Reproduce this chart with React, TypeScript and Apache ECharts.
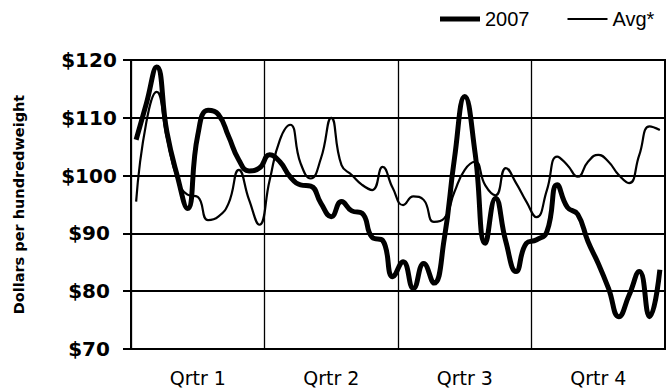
import React, { useEffect, useRef } from "react";
import * as echarts from "echarts";

const quarters = ["Qrtr 1", "Qrtr 2", "Qrtr 3", "Qrtr 4"];
const weeks = Array.from({ length: 52 }, (_, i) => `Week ${i + 1}`);

const values2007 = [
  106.2, 112.5, 118.8, 107.5, 100.0, 94.3, 107.0, 111.3, 110.6, 106.8,
  102.7, 100.8, 101.3, 103.6, 102.4, 99.8, 98.4, 98.2, 95.2, 92.9,
  95.5, 93.9, 93.5, 89.3, 88.8, 82.5, 85.1, 80.5, 84.8, 81.4,
  89.0, 103.0, 113.7, 104.0, 88.3, 96.1, 88.6, 83.4, 88.3, 88.9,
  90.3, 98.4, 94.5, 93.3, 88.6, 84.8, 80.5, 75.6, 79.3, 83.4,
  75.6, 83.7,
];

const valuesAvg = [
  95.5, 109.3, 114.5, 106.5, 99.5, 96.7, 96.3, 92.3, 92.9, 95.2,
  101.0, 95.8, 91.5, 99.2, 106.2, 108.8, 102.2, 99.5, 103.0, 110.0,
  101.8, 100.1, 98.4, 97.5, 101.5, 97.8, 94.9, 96.4, 95.8, 92.0,
  92.6, 97.2, 101.0, 102.4, 98.3, 96.6, 101.3, 98.7, 95.5, 92.8,
  97.5, 103.3, 101.8, 99.8, 102.4, 103.6, 102.4, 100.1, 98.7, 103.6,
  108.5, 107.9,
];

const yMin = 70;
const yMax = 120;
const yStep = 10;

export default function App() {
  const ref = useRef<HTMLDivElement>(null);

  useEffect(() => {
    if (!ref.current) return;
    const chart = echarts.init(ref.current, null, { renderer: "svg" });
    chart.setOption({
      animation: false,
      backgroundColor: "#ffffff",
      color: ["#000", "#000"],
      legend: {
        left: 440,
        top: 9,
        padding: 0,
        itemWidth: 40,
        itemHeight: 14,
        itemGap: 38,
        textStyle: {
          fontFamily: "Liberation Sans",
          fontSize: 20,
          color: "#000",
        },
        data: [
          {
            name: "2007",
            icon: "path://M0 0H40V5H0Z",
            itemStyle: { color: "#000" },
          },
          {
            name: "Avg*",
            icon: "path://M0 0H40V2H0Z",
            itemStyle: { color: "#000" },
          },
        ],
      },
      grid: {
        left: 131,
        right: 1,
        top: 60,
        bottom: 43,
        show: true,
        borderColor: "#000",
        borderWidth: 2,
        containLabel: false,
      },
      xAxis: [
        {
          type: "category",
          data: quarters,
          boundaryGap: true,
          axisLine: { show: true, lineStyle: { color: "#000", width: 2 } },
          axisTick: { show: false },
          axisLabel: {
            margin: 19,
            fontFamily: "DejaVu Sans",
            fontSize: 19,
            color: "#000",
          },
          splitLine: { show: true, lineStyle: { color: "#000", width: 1.3 } },
        },
        {
          type: "category",
          data: weeks,
          boundaryGap: true,
          show: false,
        },
      ],
      yAxis: {
        type: "value",
        min: yMin,
        max: yMax,
        interval: yStep,
        name: "Dollars per hundredweight",
        nameLocation: "middle",
        nameGap: 105,
        nameTextStyle: {
          fontFamily: "DejaVu Sans",
          fontWeight: "bold",
          fontSize: 14.5,
          color: "#000",
        },
        axisLine: { show: true, lineStyle: { color: "#000", width: 2 } },
        axisTick: { show: true, length: 8, lineStyle: { color: "#000", width: 2 } },
        axisLabel: {
          formatter: (v: number) => "$" + v,
          align: "center",
          margin: 42,
          fontFamily: "DejaVu Sans",
          fontWeight: "bold",
          fontSize: 20,
          color: "#000",
        },
        splitLine: { show: true, lineStyle: { color: "#000", width: 2 } },
      },
      series: [
        {
          name: "2007",
          type: "line",
          xAxisIndex: 1,
          data: values2007,
          smooth: 0.5,
          symbol: "none",
          itemStyle: { color: "#000" },
          lineStyle: { color: "#000", width: 5 },
          z: 3,
        },
        {
          name: "Avg*",
          type: "line",
          xAxisIndex: 1,
          data: valuesAvg,
          smooth: 0.5,
          symbol: "none",
          itemStyle: { color: "#000" },
          lineStyle: { color: "#000", width: 2.2 },
          z: 2,
        },
      ],
    });
    return () => chart.dispose();
  }, []);

  return (
    <div
      ref={ref}
      style={{ position: "fixed", left: 0, top: 0, width: 666, height: 392 }}
    />
  );
}
